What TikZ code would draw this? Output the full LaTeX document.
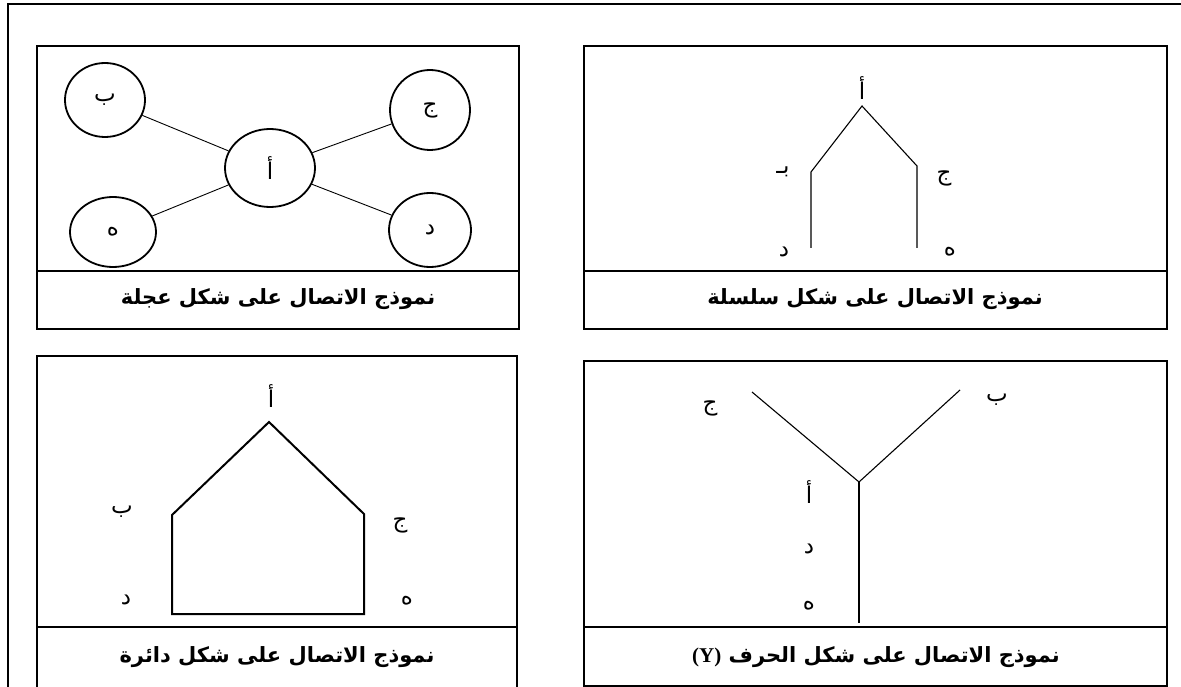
\documentclass[tikz,border=0pt]{standalone}
\usepackage{fontspec}
\newfontfamily\arabicfont[Script=Arabic]{DejaVu Sans}
\newfontfamily\latinserif{Liberation Serif}
\TeXXeTstate=1
\usetikzlibrary{shapes.geometric}
\tikzset{
  panel/.style={draw, line width=2.5pt},
  peer/.style={draw, ellipse, line width=1.8pt, inner sep=0pt, font=\arabicfont\fontsize{23}{27}\selectfont},
  link/.style={draw, line width=0.9pt},
  trace/.style={draw, line width=1.1pt},
  ring/.style={draw, line width=2pt, line join=miter},
  lbl/.style={font=\arabicfont\fontsize{23}{27}\selectfont, inner sep=0pt},
  caption/.style={font=\arabicfont\bfseries\fontsize{21}{25}\selectfont, inner sep=0pt},
}
\newcommand{\artext}[1]{\beginR#1\endR}

\begin{document}
\begin{tikzpicture}[x=1pt, y=-1pt]
  \useasboundingbox (0,0) rectangle (1181,687);
  \draw[panel] (8,687) -- (8,4) -- (1181,4);
  % panels
  \draw[panel] (37,46) rectangle (519,329);
  \draw[panel] (37,271) -- (519,271);
  \draw[panel] (584,46) rectangle (1167,329);
  \draw[panel] (584,271) -- (1167,271);
  \draw[panel] (37,687) -- (37,356) -- (517,356) -- (517,687);
  \draw[panel] (37,627) -- (517,627);
  \draw[panel] (584,361) rectangle (1167,686);
  \draw[panel] (584,627) -- (1167,627);
  \node[caption] (capwheel) at (278,299) {\artext{نموذج الاتصال على شكل عجلة}};
  \node[caption] (capchain) at (875,299) {\artext{نموذج الاتصال على شكل سلسلة}};
  \node[caption] (capring) at (277,657) {\artext{نموذج الاتصال على شكل دائرة}};
  \node[caption] (capy) at (876,657) {\artext{نموذج الاتصال على شكل الحرف \beginL{\latinserif\bfseries (Y)}\endL}};

  % wheel
  \node[peer, minimum width=90pt, minimum height=78pt] (wa) at (270,168) {\artext{أ}};
  \node[peer, minimum width=80pt, minimum height=74pt] (wb) at (105,100) {\artext{ب}};
  \node[peer, minimum width=80pt, minimum height=80pt] (wj) at (430,110) {\artext{ج}};
  \node[peer, minimum width=86pt, minimum height=70pt] (wh) at (113,232) {\artext{ه}};
  \node[peer, minimum width=82pt, minimum height=74pt] (wd) at (430,230) {\artext{د}};
  \draw[link] (wb) -- (wa);
  \draw[link] (wj) -- (wa);
  \draw[link] (wh) -- (wa);
  \draw[link] (wd) -- (wa);

  % chain
  \coordinate (ca) at (862,106);
  \coordinate (cb) at (811,172);
  \coordinate (cd) at (811,248);
  \coordinate (cj) at (917,166);
  \coordinate (ch) at (917,248);
  \draw[trace] (cd) -- (cb) -- (ca) -- (cj) -- (ch);
  \node[lbl] (la) at (862,88) {\artext{أ}};
  \node[lbl] (lb) at (783,172) {\artext{بـ}};
  \node[lbl] (lj) at (944,178) {\artext{ج}};
  \node[lbl] (ld) at (784,252) {\artext{د}};
  \node[lbl] (lh) at (950,252) {\artext{ه}};

  % ring
  \coordinate (ra) at (269,422);
  \coordinate (rb) at (172,515);
  \coordinate (rd) at (172,614);
  \coordinate (rh) at (364,614);
  \coordinate (rj) at (364,514);
  \draw[ring] (ra) -- (rb) -- (rd) -- (rh) -- (rj) -- cycle;
  \node[lbl] (ma) at (271,396) {\artext{أ}};
  \node[lbl] (mb) at (122,512) {\artext{ب}};
  \node[lbl] (mj) at (400,525) {\artext{ج}};
  \node[lbl] (md) at (126,600) {\artext{د}};
  \node[lbl] (mh) at (407,601) {\artext{ه}};

  % letter Y
  \coordinate (yj) at (752,392);
  \coordinate (yb) at (960,390);
  \coordinate (yo) at (859,482);
  \coordinate (ye) at (859,623);
  \draw[trace] (yj) -- (yo) -- (yb);
  \draw[trace] (yo) -- (ye);
  \node[lbl] (nj) at (710,408) {\artext{ج}};
  \node[lbl] (nb) at (997,400) {\artext{ب}};
  \node[lbl] (na) at (809,492) {\artext{أ}};
  \node[lbl] (nd) at (809,549) {\artext{د}};
  \node[lbl] (nh) at (809,606) {\artext{ه}};
\end{tikzpicture}
\end{document}
